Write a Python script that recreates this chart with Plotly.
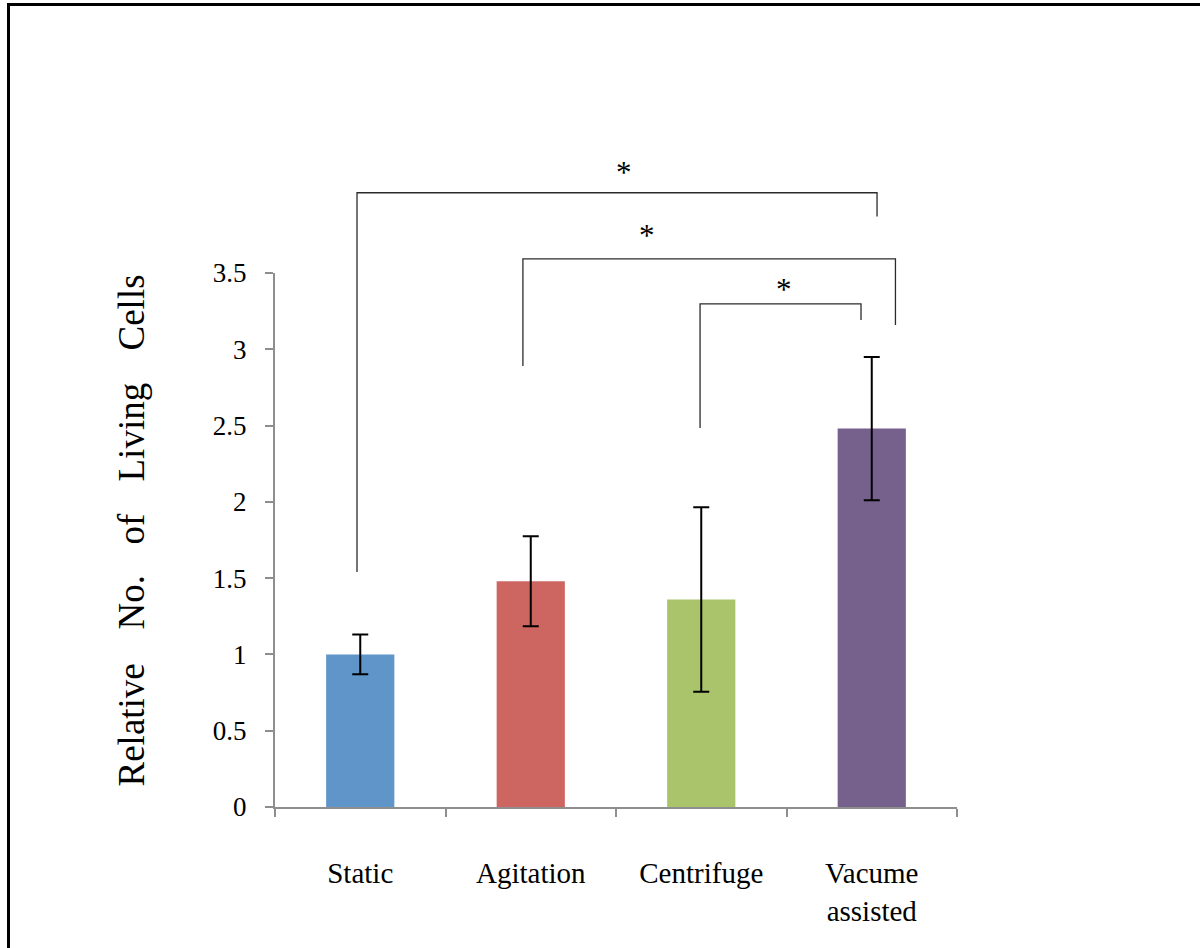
import plotly.graph_objects as go

# ---- data ----
categories = ["Static", "Agitation", "Centrifuge", "Vacume<br>assisted"]
values = [1.00, 1.48, 1.36, 2.48]
errors = [0.13, 0.295, 0.605, 0.47]
bar_colors = ["#5F95C9", "#CD6660", "#AAC46C", "#76608C"]
y_ticks = [0, 0.5, 1, 1.5, 2, 2.5, 3, 3.5]
y_tick_text = ["0", "0.5", "1", "1.5", "2", "2.5", "3", "3.5"]
title_words = ["Relative", "No.", "of", "Living", "Cells"]
sig_label = "*"

# ---- layout geometry (pixels) ----
W, H = 1200, 948
L, R, T, B = 275, 243, 273, 141
PW, PH = W - L - R, H - T - B
YMAX = 3.5
FONT = "Liberation Serif, Times New Roman, serif"


def px_x(px):
    return (px - L) / PW


def px_y(py):
    return (H - B - py) / PH


fig = go.Figure()
fig.add_trace(go.Bar(
    x=categories, y=values, width=0.4,
    marker=dict(color=bar_colors, line=dict(width=0)),
    error_y=dict(type="data", array=errors, visible=True,
                 color="black", thickness=2, width=8),
    showlegend=False, hoverinfo="skip",
))

# significance brackets: (x_left, x_right, y_top, y_left_end, y_right_end, star_x, star_y) in data units
brackets = [
    (-0.019, 3.031, 4.026, 1.540, 3.871, 1.549, 4.170),
    (0.954, 3.139, 3.592, 2.890, 3.159, 1.682, 3.762),
    (1.993, 2.937, 3.297, 2.484, 3.192, 2.485, 3.408),
]
shapes = []
annotations = []
for xl, xr, yt, yle, yre, sx, sy in brackets:
    path = (f"M {xl} {yle / YMAX} L {xl} {yt / YMAX} "
            f"L {xr} {yt / YMAX} L {xr} {yre / YMAX}")
    shapes.append(dict(type="path", xref="x", yref="paper", path=path,
                       line=dict(color="#2b2b2b", width=1.3)))
    annotations.append(dict(x=sx, y=sy / YMAX - 0.004, xref="x", yref="paper",
                            text=sig_label, showarrow=False,
                            xanchor="center", yanchor="middle",
                            font=dict(family=FONT, size=31, color="black")))

# outer frame (left and top edges visible)
shapes.append(dict(type="rect", xref="paper", yref="paper",
                   x0=px_x(8.5), x1=px_x(1215), y0=px_y(4.5), y1=px_y(965),
                   line=dict(color="black", width=3), fillcolor="rgba(0,0,0,0)",
                   layer="below"))

# y-axis title, word by word (justified spacing like the original)
word_centers = [725.5, 602.5, 528.5, 432.5, 312.5]
for w, cy in zip(title_words, word_centers):
    annotations.append(dict(x=px_x(131), y=px_y(cy), xref="paper", yref="paper",
                            text=w, textangle=-90, showarrow=False,
                            xanchor="center", yanchor="middle",
                            font=dict(family=FONT, size=37, color="black")))

axis_color = "#8E8E8E"
fig.update_layout(
    width=W, height=H,
    margin=dict(l=L, r=R, t=T, b=B, pad=0),
    paper_bgcolor="white", plot_bgcolor="white",
    bargap=0.6,
    font=dict(family=FONT, color="black"),
    xaxis=dict(
        type="category", showline=True, linecolor=axis_color, linewidth=2,
        ticks="outside", tickson="boundaries", ticklen=8, tickwidth=1.5,
        tickcolor=axis_color, showgrid=False, zeroline=False,
        tickfont=dict(family=FONT, size=29, color="black"),
        ticklabelstandoff=39,
    ),
    yaxis=dict(
        range=[0, YMAX], showline=True, linecolor=axis_color, linewidth=2,
        ticks="outside", ticklen=8, tickwidth=1.5, tickcolor=axis_color,
        tickvals=y_ticks, ticktext=y_tick_text,
        showgrid=False, zeroline=False,
        tickfont=dict(family=FONT, size=27, color="black"),
        ticklabelstandoff=13,
    ),
    shapes=shapes,
    annotations=annotations,
)

fig.write_html("out.html")
